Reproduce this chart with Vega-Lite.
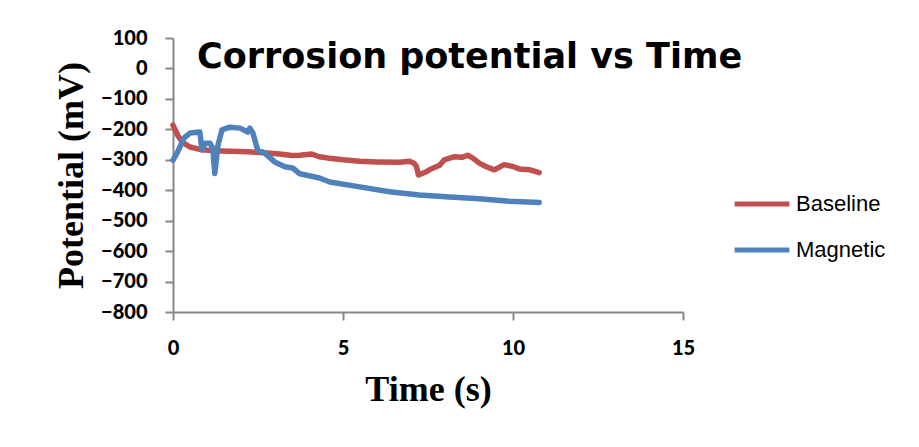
{
  "$schema": "https://vega.github.io/schema/vega-lite/v6.json",
  "width": 510,
  "height": 274,
  "autosize": "none",
  "padding": {"left": 173, "top": 38, "right": 236, "bottom": 135},
  "background": "white",
  "title": {
    "text": "Corrosion potential vs Time",
    "anchor": "start",
    "frame": "group",
    "font": "DejaVu Sans",
    "fontSize": 35,
    "fontWeight": "bold",
    "color": "black",
    "baseline": "alphabetic",
    "offset": 0,
    "dx": 24,
    "dy": 75
  },
  "config": {
    "view": {"stroke": null},
    "axis": {
      "domainColor": "#868686",
      "tickColor": "#868686",
      "domainWidth": 2,
      "tickWidth": 2,
      "tickSize": 8,
      "grid": false,
      "labelFont": "Lato",
      "labelFontWeight": 900,
      "labelFontSize": 20,
      "labelColor": "black",
      "titleFont": "Liberation Serif",
      "titleFontWeight": "bold",
      "titleFontSize": 36,
      "titleColor": "black"
    }
  },
  "data": {
    "values": [
      {"t": 0, "v": -186, "s": "Baseline"},
      {"t": 0.08, "v": -205, "s": "Baseline"},
      {"t": 0.15, "v": -222, "s": "Baseline"},
      {"t": 0.25, "v": -238, "s": "Baseline"},
      {"t": 0.35, "v": -248, "s": "Baseline"},
      {"t": 0.5, "v": -258, "s": "Baseline"},
      {"t": 0.79, "v": -266, "s": "Baseline"},
      {"t": 1.2, "v": -270, "s": "Baseline"},
      {"t": 1.67, "v": -272, "s": "Baseline"},
      {"t": 2.2, "v": -274, "s": "Baseline"},
      {"t": 2.55, "v": -276, "s": "Baseline"},
      {"t": 3.14, "v": -281, "s": "Baseline"},
      {"t": 3.5, "v": -286, "s": "Baseline"},
      {"t": 3.73, "v": -285, "s": "Baseline"},
      {"t": 4.08, "v": -281, "s": "Baseline"},
      {"t": 4.3, "v": -290, "s": "Baseline"},
      {"t": 4.61, "v": -295, "s": "Baseline"},
      {"t": 5.0, "v": -300, "s": "Baseline"},
      {"t": 5.49, "v": -305, "s": "Baseline"},
      {"t": 6.0, "v": -307, "s": "Baseline"},
      {"t": 6.66, "v": -308, "s": "Baseline"},
      {"t": 6.96, "v": -305, "s": "Baseline"},
      {"t": 7.1, "v": -312, "s": "Baseline"},
      {"t": 7.16, "v": -322, "s": "Baseline"},
      {"t": 7.22, "v": -350, "s": "Baseline"},
      {"t": 7.4, "v": -342, "s": "Baseline"},
      {"t": 7.54, "v": -333, "s": "Baseline"},
      {"t": 7.84, "v": -318, "s": "Baseline"},
      {"t": 7.98, "v": -300, "s": "Baseline"},
      {"t": 8.28, "v": -290, "s": "Baseline"},
      {"t": 8.5, "v": -292, "s": "Baseline"},
      {"t": 8.66, "v": -285, "s": "Baseline"},
      {"t": 8.8, "v": -293, "s": "Baseline"},
      {"t": 9.01, "v": -311, "s": "Baseline"},
      {"t": 9.2, "v": -322, "s": "Baseline"},
      {"t": 9.45, "v": -333, "s": "Baseline"},
      {"t": 9.74, "v": -316, "s": "Baseline"},
      {"t": 10.0, "v": -322, "s": "Baseline"},
      {"t": 10.18, "v": -330, "s": "Baseline"},
      {"t": 10.5, "v": -333, "s": "Baseline"},
      {"t": 10.77, "v": -342, "s": "Baseline"},
      {"t": 0, "v": -301, "s": "Magnetic"},
      {"t": 0.12, "v": -278, "s": "Magnetic"},
      {"t": 0.32, "v": -229, "s": "Magnetic"},
      {"t": 0.5, "v": -212, "s": "Magnetic"},
      {"t": 0.79, "v": -209, "s": "Magnetic"},
      {"t": 0.85, "v": -268, "s": "Magnetic"},
      {"t": 0.94, "v": -246, "s": "Magnetic"},
      {"t": 1.09, "v": -246, "s": "Magnetic"},
      {"t": 1.17, "v": -262, "s": "Magnetic"},
      {"t": 1.23, "v": -345, "s": "Magnetic"},
      {"t": 1.32, "v": -253, "s": "Magnetic"},
      {"t": 1.44, "v": -202, "s": "Magnetic"},
      {"t": 1.67, "v": -193, "s": "Magnetic"},
      {"t": 1.97, "v": -196, "s": "Magnetic"},
      {"t": 2.2, "v": -209, "s": "Magnetic"},
      {"t": 2.26, "v": -196, "s": "Magnetic"},
      {"t": 2.35, "v": -212, "s": "Magnetic"},
      {"t": 2.49, "v": -268, "s": "Magnetic"},
      {"t": 2.7, "v": -278, "s": "Magnetic"},
      {"t": 2.99, "v": -307, "s": "Magnetic"},
      {"t": 3.29, "v": -323, "s": "Magnetic"},
      {"t": 3.52, "v": -327, "s": "Magnetic"},
      {"t": 3.73, "v": -346, "s": "Magnetic"},
      {"t": 4.31, "v": -360, "s": "Magnetic"},
      {"t": 4.61, "v": -373, "s": "Magnetic"},
      {"t": 5.49, "v": -389, "s": "Magnetic"},
      {"t": 6.37, "v": -405, "s": "Magnetic"},
      {"t": 7.25, "v": -416, "s": "Magnetic"},
      {"t": 8.13, "v": -422, "s": "Magnetic"},
      {"t": 9.01, "v": -428, "s": "Magnetic"},
      {"t": 9.89, "v": -436, "s": "Magnetic"},
      {"t": 10.77, "v": -440, "s": "Magnetic"}
    ]
  },
  "mark": {"type": "line", "strokeWidth": 5.5, "strokeCap": "round", "strokeJoin": "round"},
  "encoding": {
    "x": {
      "field": "t",
      "type": "quantitative",
      "title": "Time (s)",
      "scale": {"domain": [0, 15], "nice": false},
      "axis": {"values": [0, 5, 10, 15], "labelPadding": 18, "titlePadding": 14, "labelFlush": false}
    },
    "y": {
      "field": "v",
      "type": "quantitative",
      "title": "Potential (mV)",
      "scale": {"domain": [-800, 100], "nice": false},
      "axis": {"values": [100, 0, -100, -200, -300, -400, -500, -600, -700, -800], "labelPadding": 18, "titlePadding": 10, "labelFlush": false}
    },
    "color": {
      "field": "s",
      "type": "nominal",
      "scale": {"domain": ["Baseline", "Magnetic"], "range": ["#C0504D", "#4F81BD"]},
      "legend": {
        "title": null,
        "orient": "none",
        "legendX": 559,
        "legendY": 136,
        "symbolType": "stroke",
        "symbolSize": 3000,
        "symbolStrokeWidth": 5,
        "labelFont": "Liberation Sans",
        "labelFontSize": 22,
        "labelColor": "black",
        "labelOffset": 4,
        "rowPadding": 5
      }
    }
  }
}
